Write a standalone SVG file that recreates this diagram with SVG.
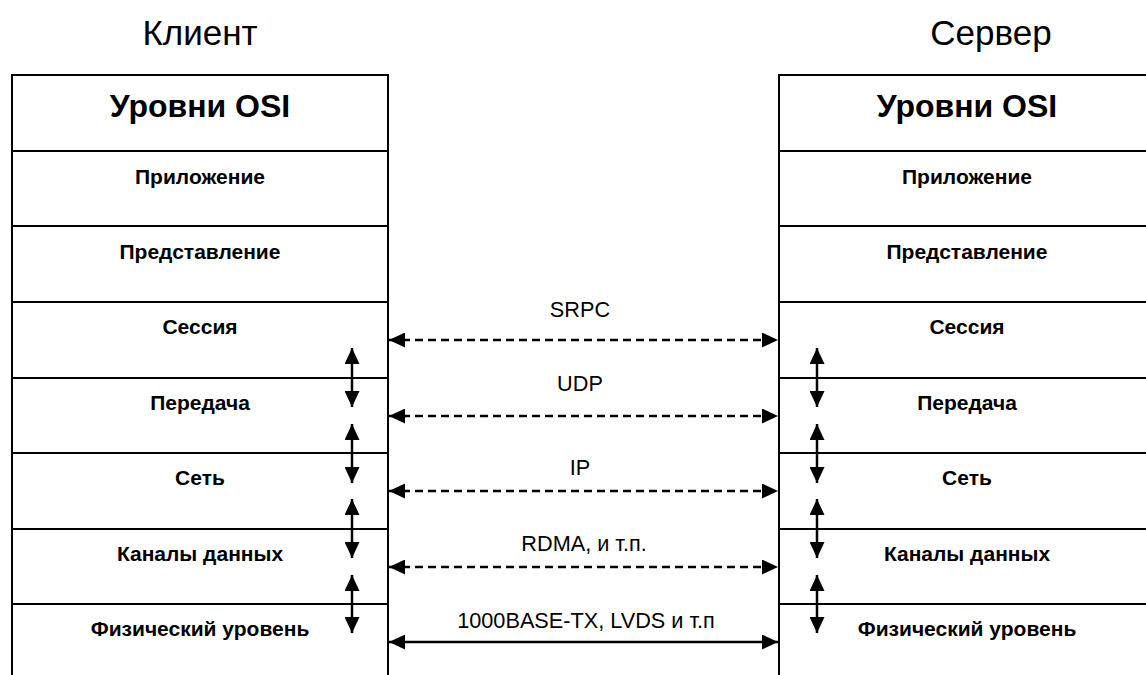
<svg xmlns="http://www.w3.org/2000/svg" width="1146" height="675" viewBox="0 0 1146 675">
<style>
.box{fill:#fff;stroke:#000;stroke-width:2}
.div{stroke:#000;stroke-width:2}
.title{font-family:"Liberation Sans",Arial,sans-serif;font-size:35px;fill:#000;text-anchor:middle}
.hdr{font-family:"Liberation Sans",Arial,sans-serif;font-size:32px;font-weight:bold;fill:#000;text-anchor:middle}
.lay{font-family:"Liberation Sans",Arial,sans-serif;font-size:21px;font-weight:bold;fill:#000;text-anchor:middle}
.lbl{font-family:"Liberation Sans",Arial,sans-serif;font-size:21.7px;fill:#000;text-anchor:middle}
.con{stroke:#000;stroke-width:2.5;fill:none}
.dash{stroke-dasharray:8,5}
</style>
<defs>
<marker id="ah" viewBox="0 0 16 15" refX="16" refY="7.5" markerWidth="16" markerHeight="15" markerUnits="userSpaceOnUse" orient="auto-start-reverse">
<path d="M0,0 L16,7.5 L0,15 Z" fill="#000"/>
</marker>
</defs>
<text class="title" x="200" y="45">Клиент</text>
<text class="title" x="991" y="45">Сервер</text>
<g id="client">
<path class="box" d="M12,676 L12,75 L388,75 L388,676"/>
<line class="div" x1="12" y1="151" x2="388" y2="151"/>
<line class="div" x1="12" y1="226" x2="388" y2="226"/>
<line class="div" x1="12" y1="302" x2="388" y2="302"/>
<line class="div" x1="12" y1="378" x2="388" y2="378"/>
<line class="div" x1="12" y1="453" x2="388" y2="453"/>
<line class="div" x1="12" y1="529" x2="388" y2="529"/>
<line class="div" x1="12" y1="604" x2="388" y2="604"/>
<text class="hdr" x="200" y="117">Уровни OSI</text>
<text class="lay" x="200" y="184">Приложение</text>
<text class="lay" x="200" y="259">Представление</text>
<text class="lay" x="200" y="334">Сессия</text>
<text class="lay" x="200" y="410">Передача</text>
<text class="lay" x="200" y="485">Сеть</text>
<text class="lay" x="200" y="561">Каналы данных</text>
<text class="lay" x="200" y="636">Физический уровень</text>
</g>
<g id="server">
<path class="box" d="M779,676 L779,75 L1160,75"/>
<line class="div" x1="779" y1="151" x2="1160" y2="151"/>
<line class="div" x1="779" y1="226" x2="1160" y2="226"/>
<line class="div" x1="779" y1="302" x2="1160" y2="302"/>
<line class="div" x1="779" y1="378" x2="1160" y2="378"/>
<line class="div" x1="779" y1="453" x2="1160" y2="453"/>
<line class="div" x1="779" y1="529" x2="1160" y2="529"/>
<line class="div" x1="779" y1="604" x2="1160" y2="604"/>
<text class="hdr" x="967" y="117">Уровни OSI</text>
<text class="lay" x="967" y="184">Приложение</text>
<text class="lay" x="967" y="259">Представление</text>
<text class="lay" x="967" y="334">Сессия</text>
<text class="lay" x="967" y="410">Передача</text>
<text class="lay" x="967" y="485">Сеть</text>
<text class="lay" x="967" y="561">Каналы данных</text>
<text class="lay" x="967" y="636">Физический уровень</text>
</g>
<g id="connectors">
<line class="con dash" x1="389" y1="340" x2="778" y2="340" marker-start="url(#ah)" marker-end="url(#ah)"/>
<line class="con dash" x1="389" y1="416" x2="778" y2="416" marker-start="url(#ah)" marker-end="url(#ah)"/>
<line class="con dash" x1="389" y1="491" x2="778" y2="491" marker-start="url(#ah)" marker-end="url(#ah)"/>
<line class="con dash" x1="389" y1="567" x2="778" y2="567" marker-start="url(#ah)" marker-end="url(#ah)"/>
<line class="con" x1="389" y1="642" x2="778" y2="642" marker-start="url(#ah)" marker-end="url(#ah)"/>
<text class="lbl" x="580" y="317">SRPC</text>
<text class="lbl" x="580" y="391">UDP</text>
<text class="lbl" x="580" y="475">IP</text>
<text class="lbl" x="584" y="551">RDMA, и т.п.</text>
<text class="lbl" x="586" y="628">1000BASE-TX, LVDS и т.п</text>
<line class="con" x1="352" y1="348" x2="352" y2="407" marker-start="url(#ah)" marker-end="url(#ah)"/>
<line class="con" x1="352" y1="424" x2="352" y2="483" marker-start="url(#ah)" marker-end="url(#ah)"/>
<line class="con" x1="352" y1="499" x2="352" y2="558" marker-start="url(#ah)" marker-end="url(#ah)"/>
<line class="con" x1="352" y1="575" x2="352" y2="633" marker-start="url(#ah)" marker-end="url(#ah)"/>
<line class="con" x1="817" y1="348" x2="817" y2="407" marker-start="url(#ah)" marker-end="url(#ah)"/>
<line class="con" x1="817" y1="424" x2="817" y2="483" marker-start="url(#ah)" marker-end="url(#ah)"/>
<line class="con" x1="817" y1="499" x2="817" y2="558" marker-start="url(#ah)" marker-end="url(#ah)"/>
<line class="con" x1="817" y1="575" x2="817" y2="633" marker-start="url(#ah)" marker-end="url(#ah)"/>
</g>
</svg>
